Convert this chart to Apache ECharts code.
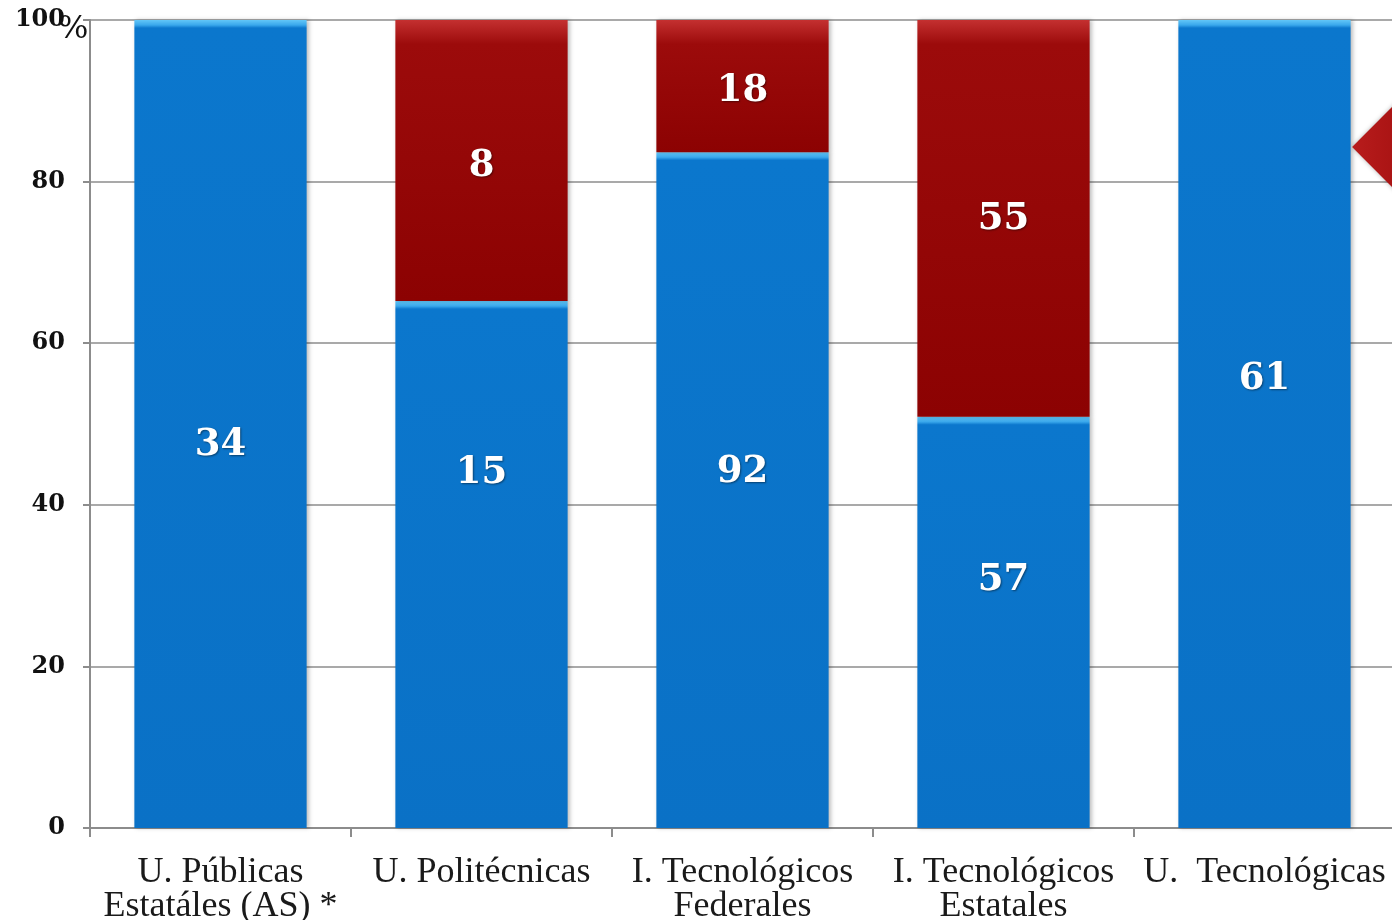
<!DOCTYPE html>
<html>
<head>
<meta charset="utf-8">
<script src="https://cdn.jsdelivr.net/npm/echarts@6/dist/echarts.min.js"></script>
<style>
html,body{margin:0;padding:0;background:#fff;}
#chart{width:1392px;height:920px;}
</style>
</head>
<body>
<div id="chart"></div>
<script>
// ---- data ----
var categories = [
  "U. Públicas\nEstatáles (AS) *",
  "U. Politécnicas",
  "I. Tecnológicos\nFederales",
  "I. Tecnológicos\nEstatales",
  "U.  Tecnológicas"
];
var blueCounts = [34, 15, 92, 57, 61];
var redCounts = [0, 8, 18, 55, 0];
var yTicks = [0, 20, 40, 60, 80, 100];
// label vertical nudges (style, px)
var blueLabelOffsets = [21, -91, -18, -42, -45];
var redLabelOffsets = [0, 6, 5, 1, 0];

var PLOT_H = 808;
function pct(a, b) { var t = a + b; return t ? a / t * 100 : 0; }
var bluePct = blueCounts.map(function (v, i) { return pct(v, redCounts[i]); });
var redPct = redCounts.map(function (v, i) { return pct(v, blueCounts[i]); });

function blueStyle(p) {
  var h = Math.max(p / 100 * PLOT_H, 10);
  return {
    color: {
      type: 'linear', x: 0, y: 0, x2: 0, y2: 1,
      colorStops: [
        { offset: 0, color: '#62c6f8' },
        { offset: 5 / h, color: '#3aa8ec' },
        { offset: 8 / h, color: '#0b77cd' },
        { offset: 1, color: '#0a71c6' }
      ]
    },
    shadowColor: 'rgba(0,0,0,0.25)', shadowBlur: 4, shadowOffsetX: 2
  };
}
function redStyle(p) {
  var h = Math.max(p / 100 * PLOT_H, 30);
  return {
    color: {
      type: 'linear', x: 0, y: 0, x2: 0, y2: 1,
      colorStops: [
        { offset: 0, color: '#c43030' },
        { offset: 24 / h, color: '#9c0b0b' },
        { offset: 1, color: '#8c0202' }
      ]
    },
    shadowColor: 'rgba(0,0,0,0.25)', shadowBlur: 4, shadowOffsetX: 2
  };
}

var labelFont = {
  show: true, position: 'inside', color: '#fff',
  fontFamily: 'DejaVu Serif', fontWeight: 'bold', fontSize: 37,
  textShadowColor: 'rgba(0,0,0,0.45)', textShadowBlur: 2, textShadowOffsetX: 1, textShadowOffsetY: 1
};

var blueData = bluePct.map(function (p, i) {
  return {
    value: p,
    itemStyle: blueStyle(p),
    label: Object.assign({}, labelFont, {
      offset: [0, blueLabelOffsets[i]],
      formatter: String(blueCounts[i])
    })
  };
});
var redData = redPct.map(function (p, i) {
  return {
    value: p,
    itemStyle: redStyle(p),
    label: Object.assign({}, labelFont, {
      show: redCounts[i] > 0,
      offset: [0, redLabelOffsets[i]],
      formatter: String(redCounts[i])
    })
  };
});

var chart = echarts.init(document.getElementById('chart'), null, { renderer: 'canvas' });
chart.setOption({
  backgroundColor: '#ffffff',
  animation: false,
  grid: { left: 90, top: 20, width: 1305, height: PLOT_H, containLabel: false, outerBoundsMode: 'none' },
  xAxis: {
    type: 'category',
    data: categories,
    axisLine: { show: true, lineStyle: { color: '#8c8c8c', width: 2 } },
    axisTick: { show: true, length: 9, lineStyle: { color: '#8c8c8c', width: 2 } },
    axisLabel: {
      interval: 0, color: '#1a1a1a', fontFamily: 'Liberation Serif',
      fontSize: 36, lineHeight: 34, margin: 28
    }
  },
  yAxis: {
    type: 'value', min: 0, max: 100, interval: 20,
    axisLine: { show: true, lineStyle: { color: '#8c8c8c', width: 2 } },
    axisTick: { show: true, length: 7, lineStyle: { color: '#8c8c8c', width: 2 } },
    splitLine: { show: true, lineStyle: { color: '#8c8c8c', width: 1.5 } },
    axisLabel: {
      color: '#111', fontFamily: 'DejaVu Serif', fontWeight: 'bold', fontSize: 24, margin: 25
    }
  },
  graphic: [{
    type: 'text',
    x: 58, y: 14, z: 20,
    style: { text: '%', fill: '#111', font: '32px "DejaVu Serif"' }
  }, {
    type: 'rect',
    shape: { x: -48, y: -48, width: 96, height: 96 },
    x: 1420, y: 147, rotation: Math.PI / 4,
    style: {
      fill: {
        type: 'linear', x: 0, y: 0, x2: 1, y2: 1,
        colorStops: [{ offset: 0, color: '#b81c1c' }, { offset: 1, color: '#8a0202' }]
      },
      shadowColor: 'rgba(0,0,0,0.3)', shadowBlur: 4
    },
    z: 10
  }],
  series: [
    { name: 'blue', type: 'bar', stack: 't', barWidth: '66%', data: blueData },
    { name: 'red', type: 'bar', stack: 't', barWidth: '66%', data: redData }
  ]
});
</script>
</body>
</html>
